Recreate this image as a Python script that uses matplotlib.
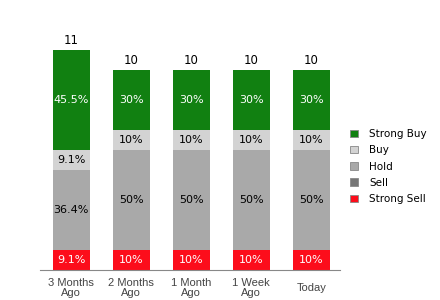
import matplotlib
matplotlib.use("Agg")
import matplotlib.pyplot as plt
from matplotlib.patches import Patch
import numpy as np

# ratings per period
categories = ["3 Months\nAgo", "2 Months\nAgo", "1 Month\nAgo", "1 Week\nAgo", "Today"]
strong_sell = [1, 1, 1, 1, 1]
sell = [0, 0, 0, 0, 0]
hold = [4, 5, 5, 5, 5]
buy = [1, 1, 1, 1, 1]
strong_buy = [5, 3, 3, 3, 3]

series = [("Strong Sell", strong_sell, "#fc0d1b", "white"),
          ("Sell", sell, "#767676", "white"),
          ("Hold", hold, "#a9a9a9", "black"),
          ("Buy", buy, "#d3d3d3", "black"),
          ("Strong Buy", strong_buy, "#118011", "white")]

fig = plt.figure(figsize=(4.4, 3.0), dpi=100, facecolor="white")
ax = fig.add_axes([40 / 440, 30 / 300, 300 / 440, 240 / 300])

x = np.arange(len(categories))
totals = np.sum([s[1] for s in series], axis=0)
bottom = np.zeros(len(categories))
for name, vals, color, tcolor in series:
    vals = np.array(vals, dtype=float)
    ax.bar(x, vals, width=0.62, bottom=bottom, color=color, label=name)
    for i in range(len(x)):
        if vals[i] > 0:
            pct = round(vals[i] / totals[i] * 100, 1)
            txt = ("%g" % pct) + "%"
            ax.text(x[i], bottom[i] + vals[i] / 2, txt, ha="center", va="center",
                    color=tcolor, fontsize=8)
    bottom += vals

# totals above bars
for i in range(len(x)):
    ax.text(x[i], totals[i] + 0.15, str(int(totals[i])), ha="center", va="bottom",
            fontsize=8.5, color="black")

ax.set_xlim(-0.52, 4.48)
ax.set_ylim(0, 12)
ax.set_xticks(x)
ax.set_xticklabels(categories, fontsize=8, color="#444444",
                   family="Liberation Sans", linespacing=0.95)
for lbl in ax.get_xticklabels():
    lbl.set_va("center")
ax.tick_params(axis="x", length=0, pad=13)
ax.set_yticks([])
for s in ["top", "right", "left"]:
    ax.spines[s].set_visible(False)
ax.spines["bottom"].set_color("#888888")

handles = [Patch(facecolor=c, edgecolor="#888888", linewidth=0.6, label=n)
           for n, v, c, t in reversed(series)]
fig.legend(handles=handles, loc="center left", bbox_to_anchor=(341 / 440, 0.445),
           frameon=False, fontsize=7.5, handlelength=0.7, handleheight=0.7,
           labelspacing=0.6, handletextpad=1.1)

fig.savefig("out.png", dpi=100)
